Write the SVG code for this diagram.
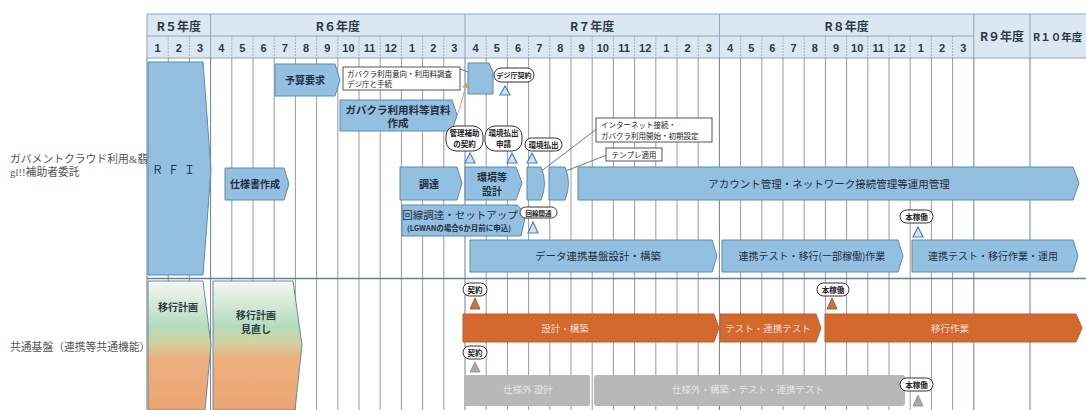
<svg xmlns="http://www.w3.org/2000/svg" width="1086" height="410" viewBox="0 0 1086 410">
<defs>
<style>
.jp{font-family:"Noto Sans CJK JP","Noto Sans",sans-serif}
.hd{font-family:"Noto Sans CJK JP",sans-serif;font-size:12px;font-weight:700;fill:#2d3a46;text-anchor:middle}
.mn{font-family:"Liberation Sans",sans-serif;font-size:11px;font-weight:700;fill:#2d3a46;text-anchor:middle}
.lbl{font-family:"Liberation Serif","Noto Sans CJK JP",serif;font-size:10.8px;fill:#555}
.bar{fill:#93c0e0;stroke:#5a8ab0;stroke-width:1}
.bt{font-family:"Noto Sans CJK JP",sans-serif;font-size:10px;font-weight:700;fill:#1f2f40;text-anchor:middle}
.note{fill:#fff;stroke:#444;stroke-width:0.9}
.nt{font-family:"Noto Sans CJK JP",sans-serif;font-size:7.5px;fill:#222}
.bub{fill:#fff;stroke:#333;stroke-width:1}
.bubt{font-family:"Noto Sans CJK JP",sans-serif;font-size:7.5px;font-weight:700;fill:#222;text-anchor:middle}
.tri{fill:#cfe3f2;stroke:#4a86b8;stroke-width:1.2}
.trio{fill:#c8744a;stroke:#8a4a2a;stroke-width:0.8}
.trig{fill:#aaaaaa;stroke:#888;stroke-width:0.8}
.obar{fill:#d4692f;stroke:#b9612e;stroke-width:1}
.ot{font-family:"Noto Sans CJK JP",sans-serif;font-size:9.5px;fill:#f6dcc8;text-anchor:middle}
.gbar{fill:#b8b8b8}
.gt{font-family:"Noto Sans CJK JP",sans-serif;font-size:9.5px;fill:#e6e6e6;text-anchor:middle}
.pl{fill:#2d3a46;font-family:"Noto Sans CJK JP",sans-serif;font-size:10px;font-weight:700;text-anchor:middle}
</style>
<linearGradient id="gp" x1="0" y1="0" x2="0" y2="1">
<stop offset="0" stop-color="#f4f8f3"/>
<stop offset="0.35" stop-color="#b5dbbd"/>
<stop offset="0.47" stop-color="#cfd3a0"/>
<stop offset="0.6" stop-color="#eeb080"/>
<stop offset="1" stop-color="#eba472"/>
</linearGradient>
<marker id="ao" markerWidth="6" markerHeight="6" refX="5" refY="3" orient="auto"><path d="M0,0 L6,3 L0,6 Z" fill="#e0a060"/></marker>
</defs>
<rect width="1086" height="410" fill="#fff"/>

<g id="labels">
<text class="lbl" x="10" y="163">ガバメントクラウド利用&amp;翡</text>
<text class="lbl" x="10" y="176">gl!!補助者委託</text>
<text class="lbl" x="10" y="351">共通基盤（連携等共通機能）</text>
</g>

<g id="header">
<rect x="147" y="14" width="939" height="44" fill="#dbe8f3"/>
<path d="M147 14H1086M147 36H974M147 58H1086" stroke="#8fa6bb" stroke-width="1" fill="none"/>
<path d="M168.2 36V58M189.4 36V58M231.8 36V58M253 36V58M274.2 36V58M295.4 36V58M316.6 36V58M337.8 36V58M359 36V58M380.2 36V58M401.4 36V58M422.6 36V58M443.8 36V58M486.2 36V58M507.4 36V58M528.6 36V58M549.8 36V58M571 36V58M592.2 36V58M613.4 36V58M634.6 36V58M655.8 36V58M677 36V58M698.2 36V58M740.6 36V58M761.8 36V58M783 36V58M804.2 36V58M825.4 36V58M846.6 36V58M867.8 36V58M889 36V58M910.2 36V58M931.4 36V58M952.6 36V58" stroke="#8fa6bb" stroke-width="0.8" stroke-dasharray="2 1" fill="none"/>
<path d="M147 14V58M210.6 14V58M465 14V58M719.4 14V58M973.8 14V58M1030 14V58" stroke="#8fa6bb" stroke-width="1" fill="none"/>
<text class="hd" x="178.8" y="31">R５年度</text>
<text class="hd" x="337.8" y="31">R６年度</text>
<text class="hd" x="592.2" y="31">R７年度</text>
<text class="hd" x="846.6" y="31">R８年度</text>
<text class="hd" x="1002" y="41">R９年度</text>
<text class="hd" x="1033" y="41" style="text-anchor:start;font-size:10.5px">R１０年度</text>
<g class="mn">
<text x="157.6" y="52">1</text><text x="178.8" y="52">2</text><text x="200" y="52">3</text>
<text x="221.2" y="52">4</text><text x="242.4" y="52">5</text><text x="263.6" y="52">6</text><text x="284.8" y="52">7</text><text x="306" y="52">8</text><text x="327.2" y="52">9</text><text x="348.4" y="52">10</text><text x="369.6" y="52">11</text><text x="390.8" y="52">12</text><text x="412" y="52">1</text><text x="433.2" y="52">2</text><text x="454.4" y="52">3</text>
<text x="475.6" y="52">4</text><text x="496.8" y="52">5</text><text x="518" y="52">6</text><text x="539.2" y="52">7</text><text x="560.4" y="52">8</text><text x="581.6" y="52">9</text><text x="602.8" y="52">10</text><text x="624" y="52">11</text><text x="645.2" y="52">12</text><text x="666.4" y="52">1</text><text x="687.6" y="52">2</text><text x="708.8" y="52">3</text>
<text x="730" y="52">4</text><text x="751.2" y="52">5</text><text x="772.4" y="52">6</text><text x="793.6" y="52">7</text><text x="814.8" y="52">8</text><text x="836" y="52">9</text><text x="857.2" y="52">10</text><text x="878.4" y="52">11</text><text x="899.6" y="52">12</text><text x="920.8" y="52">1</text><text x="942" y="52">2</text><text x="963.2" y="52">3</text>
</g>
</g>

<g id="grid">
<path d="M168.2 58V410M189.4 58V410M231.8 58V410M253 58V410M274.2 58V410M295.4 58V410M316.6 58V410M337.8 58V410M359 58V410M380.2 58V410M401.4 58V410M422.6 58V410M443.8 58V410M486.2 58V410M507.4 58V410M528.6 58V410M549.8 58V410M571 58V410M592.2 58V410M613.4 58V410M634.6 58V410M655.8 58V410M677 58V410M698.2 58V410M740.6 58V410M761.8 58V410M783 58V410M804.2 58V410M825.4 58V410M846.6 58V410M867.8 58V410M889 58V410M910.2 58V410M931.4 58V410M952.6 58V410" stroke="#808080" stroke-width="0.8" fill="none"/>
<path d="M147 58V410M210.6 58V410M465 58V410M719.4 58V410M973.8 58V410M1030 58V410" stroke="#6f7f8f" stroke-width="1" fill="none"/>
<path d="M147 278.5H1086" stroke="#6a7f95" stroke-width="1.5" fill="none"/>
</g>

<g id="connectors">
<path d="M460 69 L476 75" stroke="#4a6f90" stroke-width="0.9" fill="none"/>
<path d="M452 126 Q461 110 466 83" stroke="#e0a060" stroke-width="1" fill="none" marker-end="url(#ao)"/>
<path d="M598 128 L540 172" stroke="#4a6f90" stroke-width="0.9" fill="none"/>
<path d="M607 155 L563 172" stroke="#4a6f90" stroke-width="0.9" fill="none"/>
</g>

<g id="rfi"><polygon class="bar" points="148,62 203,62 211,170 203,275 148,275"/><text class="bt" x="176" y="174" style="font-weight:400;font-size:11px;letter-spacing:5px">ＲＦＩ</text></g>
<g id="shiyousho"><polygon class="bar" points="225,168 284,168 289,184 284,200 225,200"/><text class="bt" x="255" y="188">仕様書作成</text></g>
<g id="yosan"><polygon class="bar" points="275,64 335,64 340,80 335,96 275,96"/><text class="bt" x="305" y="84">予算要求</text></g>
<g id="note1"><rect class="note" x="343" y="67" width="117" height="23"/><text class="nt" x="347" y="77">ガバクラ利用意向・利用料調査</text><text class="nt" x="347" y="87">デジ庁と手続</text></g>
<g id="smallbox"><polygon class="bar" points="468,63 489,63 493,72 493,94 468,94"/></g>
<g id="dejikeiyaku"><rect class="bub" x="494" y="68" width="40" height="14" rx="7"/><text class="bubt" x="514" y="78" style="font-size:7px">デジ庁契約</text><polygon class="tri" points="505,86 500,95 510,95"/></g>
<g id="shiryou"><polygon class="bar" points="340,100 452,100 457,115 452,131 340,131"/><text class="bt" x="398" y="114" style="font-size:10.5px">ガバクラ利用料等資料</text><text class="bt" x="398" y="127" style="font-size:10.5px">作成</text></g>
<g id="kanrihojo"><rect class="bub" x="446" y="126" width="37" height="25" rx="10"/><text class="bubt" x="464.5" y="136">管理補助</text><text class="bubt" x="464.5" y="147">の契約</text><polygon class="tri" points="470,153 465,163 475,163"/></g>
<g id="haraidashishinsei"><rect class="bub" x="485" y="126" width="37" height="25" rx="10"/><text class="bubt" x="503.5" y="136">環境払出</text><text class="bubt" x="503.5" y="147">申請</text><polygon class="tri" points="512,153 507,163 517,163"/></g>
<g id="haraidashi"><rect class="bub" x="525" y="138" width="37" height="13" rx="6.5"/><text class="bubt" x="543.5" y="147.5">環境払出</text><polygon class="tri" points="532,153 527,163 537,163"/></g>
<g id="choutatsu"><polygon class="bar" points="400,167 457,167 462,183 457,200 400,200"/><text class="bt" x="429" y="188">調達</text></g>
<g id="kankyousekkei"><polygon class="bar" points="465,167 516,167 522,183 516,200 465,200"/><text class="bt" x="492" y="181">環境等</text><text class="bt" x="492" y="195">設計</text></g>
<g id="small1"><path class="bar" d="M527,167 L541,167 Q548,183 541,200 L527,200 Z"/></g>
<g id="small2"><path class="bar" d="M549,167 L565,167 Q572,183 565,200 L549,200 Z"/></g>
<g id="account"><polygon class="bar" points="578,167 1073,167 1079,183 1073,200 578,200"/><text class="bt" x="829" y="188" style="font-size:10.5px;font-weight:400">アカウント管理・ネットワーク接続管理等運用管理</text></g>
<g id="note2"><rect class="note" x="596" y="118" width="116" height="24"/><text class="nt" x="601" y="128">インターネット接続・</text><text class="nt" x="601" y="139">ガバクラ利用開始・初期設定</text></g>
<g id="note3"><rect class="note" x="606" y="148" width="56" height="13"/><text class="nt" x="634" y="158" style="text-anchor:middle">テンプレ適用</text></g>
<g id="kaisen"><polygon class="bar" points="402,205 517,205 526,213 521,236 402,236"/><text class="bt" x="460" y="219" style="font-size:10.5px;font-weight:400">回線調達・セットアップ</text><text class="bt" x="459" y="231" style="font-size:7.5px">(LGWANの場合6か月前に申込)</text></g>
<g id="kaitsuu"><rect class="bub" x="520" y="207" width="37" height="11" rx="5.5"/><text class="bubt" x="538.5" y="215.5" style="font-size:6.5px">回線開通</text><polygon class="tri" points="533,222 528,233 538,233"/></g>
<g id="datarenkei"><polygon class="bar" points="470,240 712,240 717,256 712,272 470,272"/><text class="bt" x="598" y="260" style="font-size:10.5px;font-weight:400">データ連携基盤設計・構築</text></g>
<g id="renkeitest1"><polygon class="bar" points="722,240 898,240 903,256 898,272 722,272"/><text class="bt" x="812" y="260" style="font-weight:400">連携テスト・移行(一部稼働)作業</text></g>
<g id="renkeitest2"><polygon class="bar" points="912,240 1073,240 1078,256 1073,272 912,272"/><text class="bt" x="993" y="260" style="font-weight:400">連携テスト・移行作業・運用</text></g>
<g id="honkadou1"><rect class="bub" x="900" y="210" width="33" height="13" rx="6.5"/><text class="bubt" x="916.5" y="219.5">本稼働</text><polygon class="tri" points="918,227 913,237 923,237"/></g>

<g id="ikoukeikaku"><polygon points="148,281 203,281 211,345 205,410 148,410" fill="url(#gp)" stroke="#6a8aa0" stroke-width="1"/><text class="pl" x="178" y="311">移行計画</text></g>
<g id="ikoukeikakuminaoshi"><polygon points="213,281 293,281 302,345 295,410 213,410" fill="url(#gp)" stroke="#6a8aa0" stroke-width="1"/><text class="pl" x="256" y="319">移行計画</text><text class="pl" x="256" y="333">見直し</text></g>

<g id="keiyaku1"><rect class="bub" x="463" y="283" width="24" height="13" rx="6.5"/><text class="bubt" x="475" y="292.5">契約</text><polygon class="trio" points="475,298 470,309 480,309"/></g>
<g id="sekkeikouchiku"><polygon class="obar" points="463,314 714,314 719,328 714,342 463,342"/><text class="ot" x="565" y="332">設計・構築</text></g>
<g id="testrenkei"><polygon class="obar" points="720,314 816,314 821,328 816,342 720,342"/><text class="ot" x="768" y="332">テスト・連携テスト</text></g>
<g id="ikousagyou"><polygon class="obar" points="825,314 1076,314 1082,328 1076,342 825,342"/><text class="ot" x="950" y="332">移行作業</text></g>
<g id="honkadou2"><rect class="bub" x="817" y="283" width="32" height="13" rx="6.5"/><text class="bubt" x="833" y="292.5">本稼働</text><polygon class="trio" points="832,298 827,309 837,309"/></g>

<g id="keiyaku2"><rect class="bub" x="463" y="346" width="24" height="13" rx="6.5"/><text class="bubt" x="475" y="355.5">契約</text><polygon class="trig" points="475,362 470,372 480,372"/></g>
<g id="graybar1"><rect class="gbar" x="464" y="375" width="126" height="31" rx="2"/><text class="gt" x="528" y="393">仕様外 設計</text></g>
<g id="graybar2"><rect class="gbar" x="594" y="375" width="311" height="31" rx="3"/><text class="gt" x="748" y="393">仕様外・構築・テスト・連携テスト</text></g>
<g id="honkadou3"><rect class="bub" x="900" y="378" width="33" height="13" rx="6.5"/><text class="bubt" x="916.5" y="387.5">本稼働</text><polygon class="trig" points="918,395 913,406 923,406"/></g>
</svg>
